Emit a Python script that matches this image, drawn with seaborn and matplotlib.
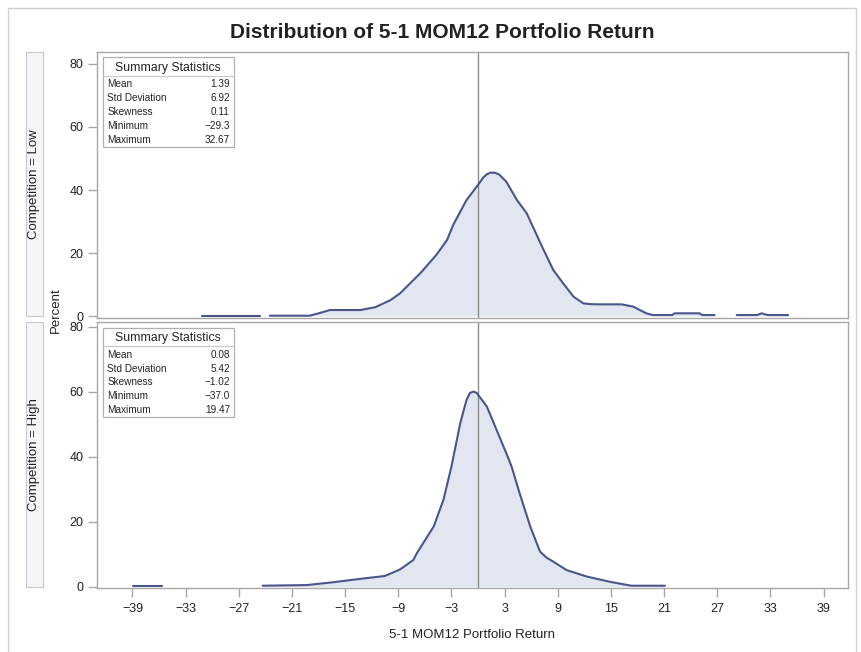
import numpy as np
import pandas as pd
import matplotlib
matplotlib.use('Agg')
import matplotlib.pyplot as plt
from matplotlib.patches import Rectangle
from matplotlib.lines import Line2D
import seaborn as sns

# --- Data ---
LOW_X = [-31.2, -24.6,
         -23.5, -19.0, -17.8, -16.7, -13.3, -11.6, -9.9, -8.8, -6.5, -4.7, -3.5, -2.8,
         -1.3, 0.0, 0.6, 1.0, 1.4, 1.9, 2.4, 3.2, 4.4, 5.5, 7.4, 8.5, 9.6, 10.8, 11.9, 12.8, 13.8,
         16.2, 17.5, 18.2, 19.0, 19.75, 21.9, 22.2, 25.0, 25.3, 26.7,
         29.2, 31.5, 32.0, 32.7, 35.0]
LOW_PCT = [0.1, 0.1,
           0.1, 0.1, 1.0, 1.9, 1.9, 2.8, 5.0, 7.2, 13.6, 19.4, 24.1, 28.9,
           36.8, 41.6, 44.0, 45.0, 45.5, 45.5, 44.9, 42.6, 36.8, 32.6, 21.0, 14.6, 10.4, 6.1, 4.0, 3.75, 3.7,
           3.7, 3.0, 2.0, 0.86, 0.3, 0.3, 0.86, 0.86, 0.3, 0.3,
           0.3, 0.3, 0.86, 0.3, 0.3]
LOW_SEG = [0] * 2 + [1] * 39 + [2] * 5

HIGH_X = [-38.9, -35.7,
          -24.3, -19.3, -16.4, -13.3, -10.5, -8.8, -7.3, -6.9, -5.0, -3.9, -3.0, -2.0,
          -1.3, -0.9, -0.5, -0.15, 1.0, 2.1, 3.2, 3.8, 4.7, 5.9, 7.0, 7.7, 8.5, 10.0, 12.3, 14.9,
          17.3, 21.1]
HIGH_PCT = [0.2, 0.2,
            0.3, 0.5, 1.35, 2.4, 3.3, 5.3, 8.2, 10.3, 18.5, 26.7, 36.9, 50.3,
            57.4, 59.6, 60.0, 59.6, 55.4, 48.2, 41.0, 36.9, 28.7, 18.5, 10.8, 9.0, 7.7, 5.1, 3.1, 1.5,
            0.3, 0.3]
HIGH_SEG = [0] * 2 + [1] * 30

PANELS = ['Low', 'High']
STAT_NAMES = ['Mean', 'Std Deviation', 'Skewness', 'Minimum', 'Maximum']
LOW_STATS = ['1.39', '6.92', '0.11', '\u221229.3', '32.67']
HIGH_STATS = ['0.08', '5.42', '\u22121.02', '\u221237.0', '19.47']

X_TICKS = list(range(-39, 40, 6))
Y_TICKS = [0, 20, 40, 60, 80]

LINE_COLOR = '#48568a'
FILL_COLOR = '#e2e6f0'
FRAME_COLOR = '#a8a8a8'

sns.set_theme(style='white')
plt.rcParams['font.family'] = ['Liberation Sans', 'DejaVu Sans']

W, H = 862, 652
fig = plt.figure(figsize=(W / 100, H / 100), dpi=100)


def px_rect(left, top, right, bottom):
    return [left / W, 1 - bottom / H, (right - left) / W, (bottom - top) / H]


ax_low = fig.add_axes(px_rect(97, 51.7, 848, 318))
ax_high = fig.add_axes(px_rect(97, 322, 848, 587.5))

curves = {
    'Low': pd.DataFrame({'x': LOW_X, 'pct': LOW_PCT, 'seg': LOW_SEG}),
    'High': pd.DataFrame({'x': HIGH_X, 'pct': HIGH_PCT, 'seg': HIGH_SEG}),
}
stats = {'Low': LOW_STATS, 'High': HIGH_STATS}
ylims = {'Low': (-0.63, 83.9), 'High': (-0.25, 81.4)}

for ax, name in zip([ax_low, ax_high], PANELS):
    df = curves[name]
    for _, g in df.groupby('seg'):
        ax.fill_between(g['x'], 0, g['pct'], color=FILL_COLOR, lw=0, zorder=1)
    sns.lineplot(data=df, x='x', y='pct', units='seg', estimator=None,
                 color=LINE_COLOR, lw=1.5, ax=ax, zorder=3, sort=False)
    ax.axvline(0, color='#8c8c8c', lw=1, zorder=2)

    ax.set_xlim(-43.0, 41.76)
    ax.set_ylim(*ylims[name])
    ax.set_yticks(Y_TICKS)
    ax.set_xticks(X_TICKS)
    ax.set_xlabel('')
    ax.set_ylabel('')
    for s in ax.spines.values():
        s.set_color(FRAME_COLOR)
        s.set_linewidth(1)
    ax.tick_params(axis='both', which='both', direction='out', length=6.5, width=1,
                   color=FRAME_COLOR, labelsize=9, labelcolor='#222222', pad=3,
                   left=True, bottom=(name == 'High'))

    # summary statistics inset
    h_px = ax.get_position().height * H
    def fy(off):
        return 1 - off / h_px
    ax.add_patch(Rectangle((0.008, fy(95)), 0.1744, fy(5.5) - fy(95),
                           transform=ax.transAxes, facecolor='white',
                           edgecolor='#b0b0b0', lw=0.9, zorder=5))
    ax.plot([0.008, 0.1824], [fy(24.3), fy(24.3)], transform=ax.transAxes,
            color='#c8c8c8', lw=0.8, zorder=6)
    ax.text(0.095, fy(16.5), 'Summary Statistics', transform=ax.transAxes,
            ha='center', va='center', fontsize=8.8, color='#222222', zorder=6)
    for i, (lab, val) in enumerate(zip(STAT_NAMES, stats[name])):
        y = fy(32.6 + i * 13.9)
        ax.text(0.0137, y, lab, transform=ax.transAxes, ha='left', va='center',
                fontsize=7.2, color='#222222', zorder=6)
        ax.text(0.177, y, val, transform=ax.transAxes, ha='right', va='center',
                fontsize=7.2, color='#222222', zorder=6)

ax_low.set_xticklabels([])
ax_high.set_xticklabels([str(t).replace('-', '\u2212') for t in X_TICKS])
ax_high.tick_params(axis='x', pad=5)
ax_high.set_xlabel('5-1 MOM12 Portfolio Return', fontsize=9.5, labelpad=10, color='#222222')

# strip labels on the left
for (top, bottom), name in zip([(51.7, 316), (322, 587)], PANELS):
    fig.patches.append(Rectangle(((25.7) / W, 1 - bottom / H), 17.6 / W, (bottom - top) / H,
                                 transform=fig.transFigure, facecolor='#f5f5fa',
                                 edgecolor='#c8c8d2', lw=0.8))
    fig.text(34.5 / W, 1 - (top + bottom) / 2 / H, f'Competition = {name}',
             rotation=90, ha='center', va='center', fontsize=9.5, color='#222222')

fig.text(56 / W, 1 - 310 / H, 'Percent', rotation=90, ha='center', va='center',
         fontsize=9.5, color='#222222')
fig.text(442 / W, 1 - 33 / H, 'Distribution of 5-1 MOM12 Portfolio Return',
         ha='center', va='center', fontsize=15, fontweight='bold', color='#222222')

# outer frame
for xs, ys in [([8, 856], [8, 8]), ([8, 8], [8, 660]), ([856, 856], [8, 660])]:
    fig.lines.append(Line2D([x / W for x in xs], [1 - y / H for y in ys],
                            transform=fig.transFigure, color='#d0d0d0', lw=1))

fig.savefig('out.png', dpi=100)
